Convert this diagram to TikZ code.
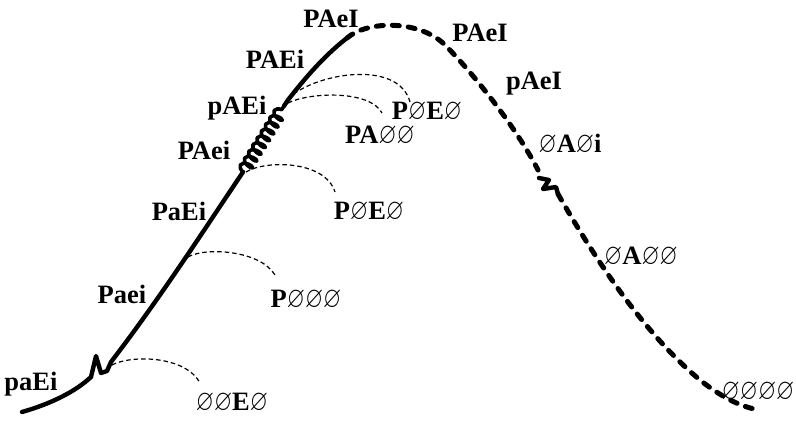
\documentclass[tikz,border=0pt]{standalone}
\usepackage{fontspec}
\usepackage{amssymb}
\usepackage{graphicx}
\setmainfont{Liberation Serif}
\usetikzlibrary{decorations.pathmorphing}
\newcommand{\nul}{\scalebox{0.88}[1.12]{\ensuremath{\varnothing}}}
\begin{document}
\begin{tikzpicture}[x=1pt,y=-1pt,
  mainline/.style={line width=4.4pt, line cap=round, line join=round},
  maindash/.style={line width=5pt, line cap=round, dash pattern=on 7pt off 9pt},
  link/.style={line width=1.2pt, dash pattern=on 4.5pt off 3pt},
  lab/.style={font=\fontsize{26.5}{30}\selectfont\bfseries, inner sep=0pt}]
\useasboundingbox (0,0) rectangle (796,421);
% points on the curve
\coordinate (s0) at (22,412);
\coordinate (z0) at (91,377);
\coordinate (z1) at (111,362);
\coordinate (k0) at (243,172);
\coordinate (k1) at (284,106);
\coordinate (t0) at (288,100);
\coordinate (d0) at (347,38);
\coordinate (d1) at (445,45);
\coordinate (d2) at (538,170);
\coordinate (q1) at (558,194);
\coordinate (d3) at (700,380);
\coordinate (e0) at (760,410);
% solid part
\draw[mainline] (s0) .. controls (50,404) and (75,392) .. (z0)
  -- (96,356) -- (101,373) -- (107,371) -- (z1)
  .. controls (160,298) and (200,236) .. (k0);
\draw[mainline, line width=3.6pt, decorate, decoration={coil, amplitude=6pt, segment length=8pt, aspect=0.45}] (k0) -- (k1);
\draw[mainline] (k1) -- (t0) .. controls (305,78) and (325,55) .. (d0);
% dashed part
\draw[maindash] (d0) .. controls (368,20) and (420,20) .. (d1)
  .. controls (470,70) and (515,125) .. (d2);
\draw[mainline] (539,178) -- (549,180) -- (543,189) -- (556,187) -- (q1);
\draw[maindash] (q1) .. controls (590,250) and (640,330) .. (d3)
  .. controls (725,400) and (745,408) .. (e0);
% labels
\node[lab] (l1) at (31,384) {paEi};
\node[lab] (l2) at (232,403) {\nul\nul E\nul};
\node[lab] (l3) at (122,294) {Paei};
\node[lab] (l4) at (306,300) {P\nul\nul\nul};
\node[lab] (l5) at (179,211) {PaEi};
\node[lab] (l6) at (369,212) {P\nul E\nul};
\node[lab] (l7) at (204,150) {PAei};
\node[lab] (l8) at (237,108) {pAEi};
\node[lab] (l9) at (275,59) {PAEi};
\node[lab] (l10) at (331,19) {PAeI};
\node[lab] (l11) at (427,112) {P\nul E\nul};
\node[lab] (l12) at (380,136) {PA\nul\nul};
\node[lab] (l13) at (480,33) {PAeI};
\node[lab] (l14) at (534,84) {pAeI};
\node[lab] (l15) at (570,145) {\nul A\nul i};
\node[lab] (l16) at (641,257) {\nul A\nul\nul};
\node[lab] (l17) at (758,392) {\nul\nul\nul\nul};
% connectors
\coordinate (c1s) at (112,365); \coordinate (c1e) at (200,383);
\coordinate (c2s) at (188,257); \coordinate (c2e) at (275,275);
\coordinate (c3s) at (246,172); \coordinate (c3e) at (335,192);
\coordinate (c4s) at (288,99);  \coordinate (c4e) at (410,102);
\coordinate (c5s) at (288,103); \coordinate (c5e) at (382,113);
\draw[link] (c1s) .. controls (130,355) and (185,355) .. (c1e);
\draw[link] (c2s) .. controls (205,247) and (260,250) .. (c2e);
\draw[link] (c3s) .. controls (265,160) and (325,160) .. (c3e);
\draw[link] (c4s) .. controls (312,74) and (398,58) .. (c4e);
\draw[link] (c5s) .. controls (310,92) and (370,90) .. (c5e);
\end{tikzpicture}
\end{document}
